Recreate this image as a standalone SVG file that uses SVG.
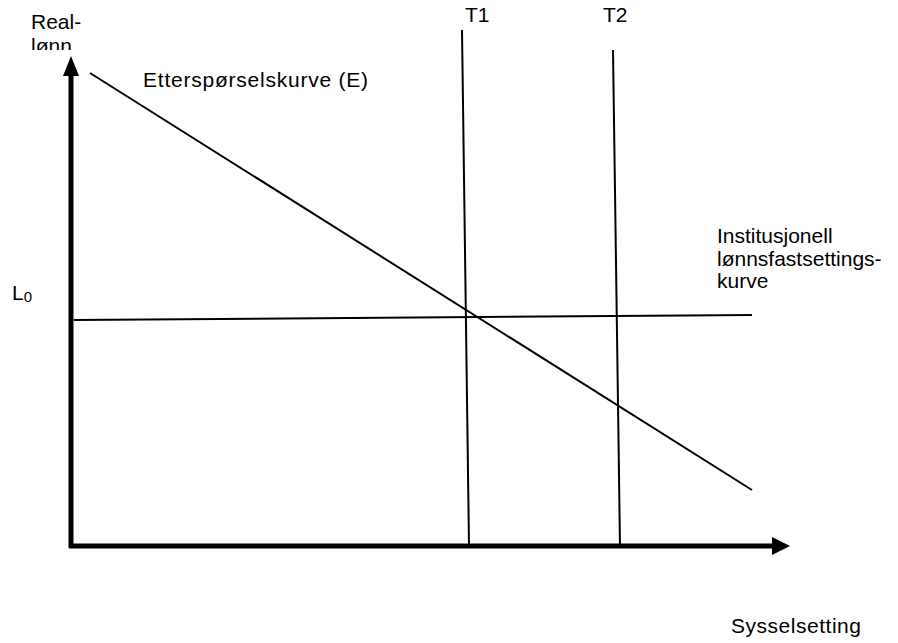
<svg xmlns="http://www.w3.org/2000/svg" width="898" height="643" viewBox="0 0 898 643">
<defs>
<style>
text{font-family:"Liberation Sans",Arial,sans-serif;font-size:21px;fill:#000}
.thin{stroke:#000;stroke-width:2;fill:none}
.axis{stroke:#000;stroke-width:5;fill:none}
</style>
<clipPath id="clipL"><rect x="0" y="0" width="200" height="50"/></clipPath>
</defs>
<rect width="898" height="643" fill="#fff"/>
<g id="axes">
<line class="axis" x1="71" y1="548" x2="71" y2="74"/>
<polygon points="71,56 63,76 79,76"/>
<line class="axis" x1="69" y1="546" x2="774" y2="546"/>
<polygon points="790,546 772,537 772,555"/>
</g>
<g id="connectors">
<line id="demand" class="thin" x1="90" y1="73" x2="752" y2="490"/>
<line id="wage" class="thin" x1="74" y1="320" x2="752" y2="315"/>
<line id="t1" class="thin" x1="462" y1="30" x2="469" y2="546"/>
<line id="t2" class="thin" x1="613" y1="50" x2="620" y2="546"/>
</g>
<g id="labels">
<text x="31" y="29">Real-</text>
<text x="31" y="53" clip-path="url(#clipL)">lønn</text>
<text x="143" y="87" textLength="225" lengthAdjust="spacing">Etterspørselskurve (E)</text>
<text x="465" y="22">T1</text>
<text x="603" y="22">T2</text>
<text x="12" y="300">L<tspan font-size="15" dy="2">0</tspan></text>
<text x="717" y="243">Institusjonell</text>
<text x="717" y="266">lønnsfastsettings-</text>
<text x="717" y="288">kurve</text>
<text x="731" y="633" textLength="130" lengthAdjust="spacing">Sysselsetting</text>
</g>
</svg>
